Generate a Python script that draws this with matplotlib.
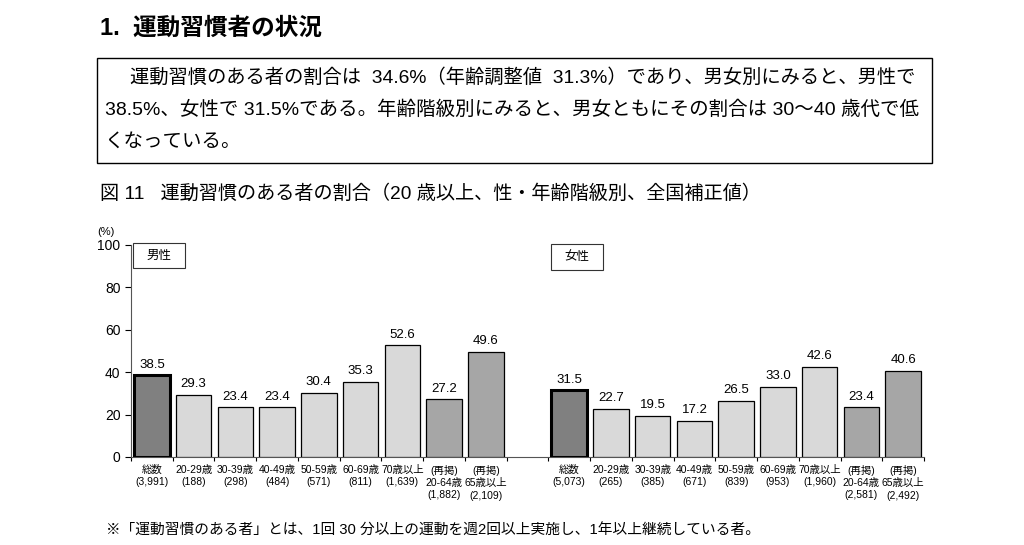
import matplotlib
matplotlib.use("Agg")
import matplotlib.pyplot as plt
from matplotlib.patches import Rectangle

plt.rcParams['font.family'] = ['Liberation Sans', 'Noto Sans CJK JP', 'DejaVu Sans']

# ---- data ----
male_labels = ["総数\n(3,991)", "20-29歳\n(188)", "30-39歳\n(298)", "40-49歳\n(484)",
               "50-59歳\n(571)", "60-69歳\n(811)", "70歳以上\n(1,639)",
               "(再掲)\n20-64歳\n(1,882)", "(再掲)\n65歳以上\n(2,109)"]
male_values = [38.5, 29.3, 23.4, 23.4, 30.4, 35.3, 52.6, 27.2, 49.6]
female_labels = ["総数\n(5,073)", "20-29歳\n(265)", "30-39歳\n(385)", "40-49歳\n(671)",
                 "50-59歳\n(839)", "60-69歳\n(953)", "70歳以上\n(1,960)",
                 "(再掲)\n20-64歳\n(2,581)", "(再掲)\n65歳以上\n(2,492)"]
female_values = [31.5, 22.7, 19.5, 17.2, 26.5, 33.0, 42.6, 23.4, 40.6]
bar_kinds = ["total", "age", "age", "age", "age", "age", "age", "re", "re"]
y_ticks = [0, 20, 40, 60, 80, 100]

kind_color = {"total": "#808080", "age": "#d9d9d9", "re": "#a6a6a6"}
kind_lw = {"total": 2.2, "age": 0.9, "re": 0.9}

W, H = 1024, 545
fig = plt.figure(figsize=(W / 100, H / 100), dpi=100)
fig.patch.set_facecolor("white")

def fx(px):
    return px / W

def fy(py):
    return 1 - py / H

def frect(x0, y0, x1, y1, lw=1.0, ec="black"):
    fig.patches.append(Rectangle((fx(x0), fy(y1)), fx(x1) - fx(x0), fy(y0) - fy(y1),
                                 transform=fig.transFigure, fill=True, facecolor="white",
                                 edgecolor=ec, linewidth=lw, zorder=5))

# ---- texts around chart ----
fig.text(fx(100), fy(28), "1.  運動習慣者の状況", fontsize=17, fontweight="bold",
         va="center", ha="left")
fig.patches.append(Rectangle((fx(97), fy(163)), fx(932) - fx(97), fy(58) - fy(163),
                             transform=fig.transFigure, fill=False, edgecolor="black",
                             linewidth=1.0))
fig.text(fx(130), fy(78), "運動習慣のある者の割合は  34.6%（年齢調整値  31.3%）であり、男女別にみると、男性で",
         fontsize=13.9, va="center", ha="left")
fig.text(fx(105), fy(110), "38.5%、女性で 31.5%である。年齢階級別にみると、男女ともにその割合は 30～40 歳代で低",
         fontsize=14.0, va="center", ha="left")
fig.text(fx(105), fy(142), "くなっている。", fontsize=14.0, va="center", ha="left")
fig.text(fx(100), fy(194), "図 11   運動習慣のある者の割合（20 歳以上、性・年齢階級別、全国補正値）",
         fontsize=13.8, va="center", ha="left")
fig.text(fx(106), fy(531), "※「運動習慣のある者」とは、1回 30 分以上の運動を週2回以上実施し、1年以上継続している者。",
         fontsize=10.6, va="center", ha="left")

# ---- chart ----
ax = fig.add_axes([fx(131), fy(457), fx(924) - fx(131), fy(245) - fy(457)])
n = len(male_values)
male_x = list(range(n))
female_x = [i + n + 1 for i in range(n)]

for xs, vals in ((male_x, male_values), (female_x, female_values)):
    for x, v, k in zip(xs, vals, bar_kinds):
        ax.bar(x, v, width=0.85, color=kind_color[k], edgecolor="black",
               linewidth=kind_lw[k], zorder=3)
        ax.text(x, v + 2.2, f"{v:.1f}", ha="center", va="bottom", fontsize=9.5)

ax.set_xlim(-0.5, 2 * n + 0.5)
ax.set_ylim(0, 100)
ax.set_yticks(y_ticks)
ax.tick_params(axis="y", labelsize=10, length=4, direction="out", width=0.8)
ax.set_xticks([i - 0.5 for i in range(2 * n + 2)])
ax.set_xticklabels([])
ax.tick_params(axis="x", length=3, direction="out", width=0.8)
for s in ("top", "right"):
    ax.spines[s].set_visible(False)
ax.spines["left"].set_linewidth(0.8)
ax.spines["bottom"].set_linewidth(0.8)
ax.spines["left"].set_color("#555555")
ax.spines["bottom"].set_color("#555555")

for xs, labs in ((male_x, male_labels), (female_x, female_labels)):
    for x, lab in zip(xs, labs):
        ax.text(x, -3.6, lab, ha="center", va="top", fontsize=7.5, linespacing=1.3)

ax.text(-1.1, 104, "(%)", ha="center", va="bottom", fontsize=8)

# gender boxes
for (x0, y0, x1, y1), label in (((133, 243, 185, 268), "男性"), ((551, 244, 603, 270), "女性")):
    frect(x0, y0, x1, y1, lw=0.8, ec="#333333")
    fig.text(fx((x0 + x1) / 2), fy((y0 + y1) / 2), label, fontsize=9, ha="center",
             va="center", zorder=6)

fig.savefig("out.png", dpi=100, facecolor="white")
